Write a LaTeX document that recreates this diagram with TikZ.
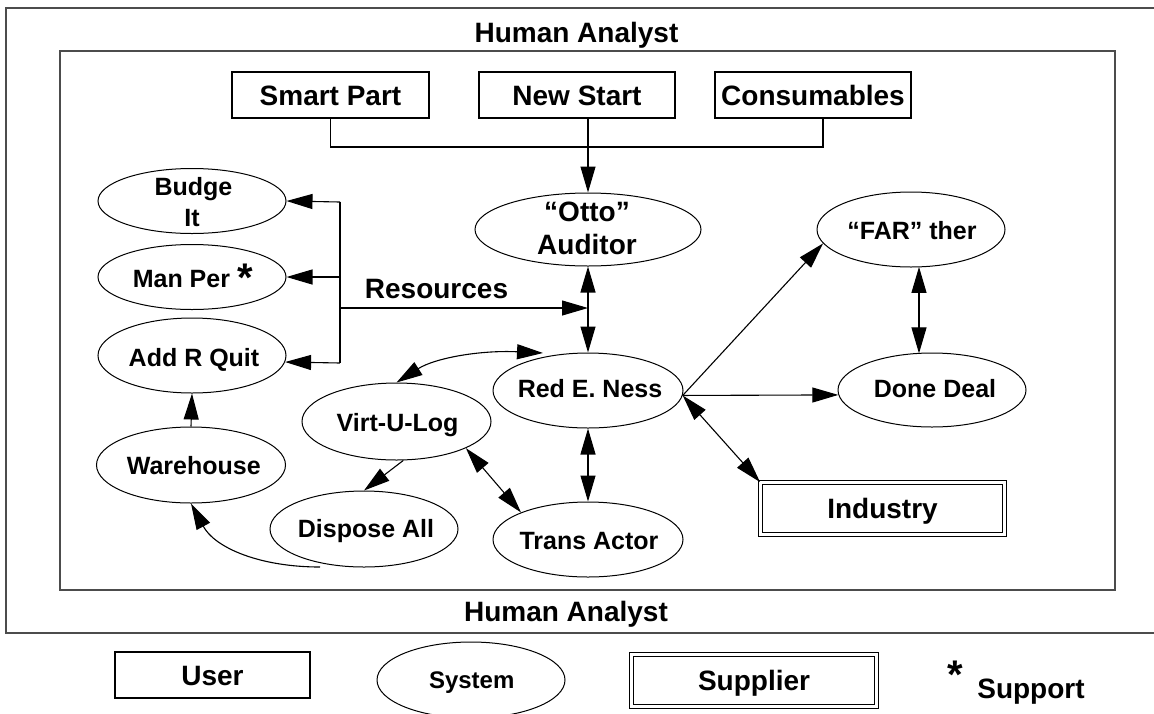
\documentclass[tikz,border=0pt]{standalone}
\usepackage{fontspec}
\setmainfont{Liberation Sans}
\usetikzlibrary{shapes.geometric,arrows.meta,calc}
\begin{document}
\begin{tikzpicture}[x=1pt,y=-1pt,
  big/.style={font=\fontsize{28}{30}\selectfont\bfseries, inner sep=0pt, text height=20pt, text depth=0pt},
  mid/.style={font=\fontsize{25}{27}\selectfont\bfseries, inner sep=0pt, text height=18pt, text depth=0pt},
  small/.style={font=\fontsize{24}{26}\selectfont\bfseries, inner sep=0pt, text height=17.2pt, text depth=0pt},
  userbox/.style={draw, line width=1.1pt, rectangle, inner sep=0pt},
  sysell/.style={draw, line width=1pt, ellipse, inner sep=0pt},
  suppbox/.style={draw, rectangle, inner sep=0pt, line width=0.9pt, double=white, double distance=2.4pt},
  conn/.style={line width=1.1pt},
  arr/.style={conn, -{Triangle[length=26pt,width=15pt]}},
  darr/.style={conn, {Triangle[length=26pt,width=15pt]}-{Triangle[length=26pt,width=15pt]}},
  frame/.style={line width=2pt, draw=black!70},
]
\useasboundingbox (0,0) rectangle (1154,713);
% frames
\draw[frame] (1170,8) -- (6,8) -- (6,633) -- (1170,633);
\draw[frame] (60,51) rectangle (1115,590);
\node[big] (ha1) at (576.5,32) {Human Analyst};
\node[big] (ha2) at (566,611) {Human Analyst};

% users
\node[userbox, big, minimum width=197pt, minimum height=46pt] (sp) at (330.5,95) {Smart Part};
\node[userbox, big, minimum width=196pt, minimum height=46pt] (ns) at (577,95) {New Start};
\node[userbox, big, minimum width=196pt, minimum height=46pt] (cons) at (813,95) {Consumables};

% systems
\node[sysell, minimum width=226pt, minimum height=73pt] (otto) at (588,229.5) {};
\node[big] (ottot1) at (587,211) {“Otto”};
\node[big] (ottot2) at (587,244) {Auditor};
\node[sysell, minimum width=188pt, minimum height=65pt] (budge) at (192,201) {};
\node[mid] (budget1) at (193.5,186) {Budge};
\node[mid] (budget2) at (192,217) {It};
\node[sysell, minimum width=188pt, minimum height=65pt] (man) at (192,277) {};
\node[mid] (mant) at (192.7,278.5) {Man Per\hspace{7pt}\raisebox{-4pt}{\fontsize{40}{40}\selectfont *}};
\node[sysell, minimum width=188pt, minimum height=75pt] (addr) at (192,355.5) {};
\node[mid] (addrt) at (194,357) {Add R Quit};
\node[sysell, minimum width=189pt, minimum height=76pt] (wh) at (191,465) {};
\node[mid] (wht) at (193.8,465) {Warehouse};
\node[sysell, minimum width=189pt, minimum height=77pt] (virt) at (396.5,421.5) {};
\node[mid] (virtt) at (397.6,422) {Virt-U-Log};
\node[sysell, minimum width=188pt, minimum height=76pt] (disp) at (364,529) {};
\node[mid] (dispt) at (366,528.5) {Dispose All};
\node[sysell, minimum width=190pt, minimum height=75pt] (red) at (588,390.5) {};
\node[mid] (redt) at (590,388.5) {Red E. Ness};
\node[sysell, minimum width=190pt, minimum height=75pt] (trans) at (588,539.5) {};
\node[mid] (transt) at (589,540) {Trans Actor};
\node[sysell, minimum width=188pt, minimum height=75pt] (far) at (911,229.5) {};
\node[mid] (fart) at (912,230) {“FAR” ther};
\node[sysell, minimum width=188pt, minimum height=74pt] (done) at (932,390) {};
\node[mid] (donet) at (935,388.5) {Done Deal};
\node[suppbox, big, minimum width=244pt, minimum height=52pt] (ind) at (882.5,508.5) {Industry};

% legend
\node[userbox, big, minimum width=195pt, minimum height=46pt] (user) at (212.5,675) {User};
\node[sysell, minimum width=188pt, minimum height=76pt] (sys) at (471,680) {};
\node[small] (syst) at (471.7,680) {System};
\node[suppbox, big, minimum width=245pt, minimum height=52pt] (supp) at (754,680.5) {Supplier};
\node[anchor=base, inner sep=0pt, font=\fontsize{40}{40}\selectfont\bfseries] (star) at (955,688) {*};
\node[big] (supt) at (1031,688) {Support};

% connectors
\draw[arr] (ns.south -| otto.north) -- (otto.north);
\coordinate (jl) at (330.5,147);
\coordinate (jr) at (823,147);
\draw[conn] (sp.south) -- (jl) -- (jr) -- (jr |- cons.south);

\coordinate (bt) at (340,202);
\coordinate (bm) at (340,277);
\coordinate (br) at (340,308);
\coordinate (bb) at (340,363);
\draw[conn] (bt) -- (bb);
\draw[arr] (bt) -- (budge.east);
\draw[arr] (bm) -- (man.east);
\draw[arr] (bb) -- (addr.-4.7);
\draw[arr] (br) -- (br -| otto.south);
\node[big] (res) at (436.5,288.5) {Resources};

\draw[darr] (otto.south) -- (red.north);
\draw[darr] (red.south) -- (trans.north);
\draw[arr] (red.-3) -- (far.189);
\draw[arr] (red.-3) -- (done.183);
\draw[darr] (red.-3) -- (ind.north west);
\draw[darr] ($(far.center)+(8,37.4)$) -- ($(done.center)+(-13,-36.6)$);

\draw[darr] (virt.north) .. controls (435,358) and (480,350) .. ($(red.center)+(-45,-37.5)$);
\draw[arr] (virt.-80) -- (disp.north);
\draw[darr] (virt.-21) -- (trans.158);
\draw[arr] ($(disp.center)+(-44,38)$) .. controls (260,567) and (215,548) .. (wh.south);
\draw[arr] (wh.north) -- (addr.south);
\end{tikzpicture}
\end{document}
